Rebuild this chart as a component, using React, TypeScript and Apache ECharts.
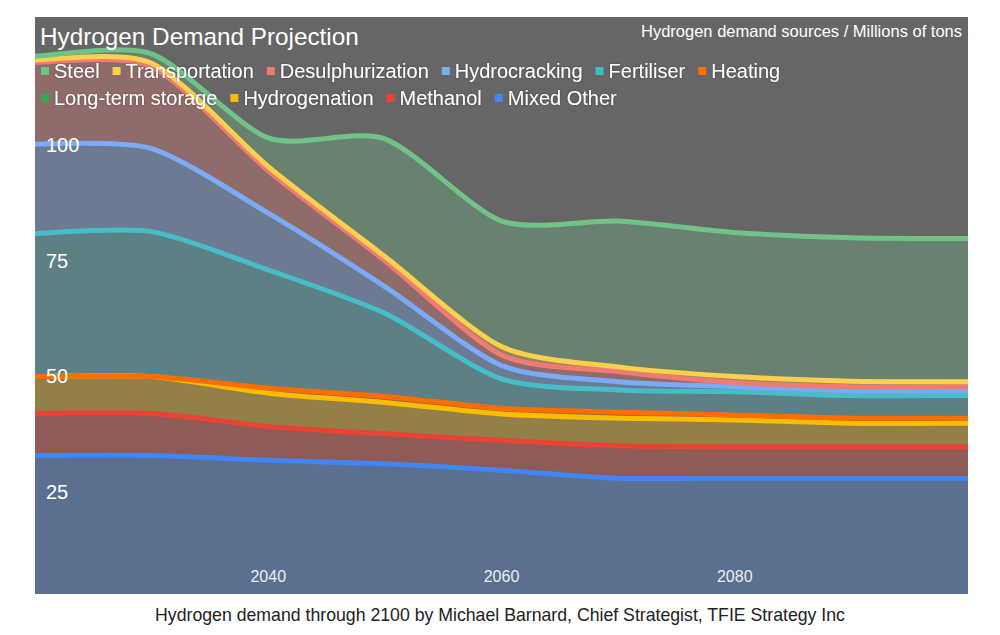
import React, { useEffect, useRef } from "react";
import * as echarts from "echarts";

// Years on the x axis
const years = ["2020", "2030", "2040", "2050", "2060", "2070", "2080", "2090", "2100"];
const labelledYears = ["2040", "2060", "2080"];

// Series values (millions of tons), bottom of the stack first
const mixedOther = [30.0, 30.0, 29.0, 28.2, 26.8, 25.1, 25.1, 25.1, 25.1];
const methanol = [9.1, 9.1, 7.3, 6.5, 6.5, 7.0, 6.8, 6.8, 6.8];
const hydrogenation = [8.0, 8.0, 7.2, 6.8, 5.7, 6.0, 5.8, 5.1, 5.1];
const longTermStorage = [null, null, null, null, null, null, null, null, null];
const heating = [0.0, 0.0, 1.1, 1.3, 1.2, 1.3, 1.1, 1.1, 1.1];
const fertiliser = [31.0, 31.4, 25.6, 18.0, 6.4, 4.8, 5.0, 4.9, 4.9];
const hydrocracking = [19.4, 18.0, 12.3, 5.8, 2.9, 1.8, 1.1, 1.0, 1.0];
const desulphurization = [17.7, 17.7, 9.2, 5.6, 2.3, 2.2, 0.9, 0.9, 0.9];
const transportation = [0.5, 0.8, 0.9, 0.9, 1.8, 1.0, 1.3, 1.2, 1.1];
const steel = [0.8, 2.0, 6.2, 25.5, 27.2, 31.6, 31.2, 31.1, 31.0];

const seriesNames = [
  "Mixed Other",
  "Methanol",
  "Hydrogenation",
  "Long-term storage",
  "Heating",
  "Fertiliser",
  "Hydrocracking",
  "Desulphurization",
  "Transportation",
  "Steel",
];
const seriesValues: (number | null)[][] = [
  mixedOther,
  methanol,
  hydrogenation,
  longTermStorage,
  heating,
  fertiliser,
  hydrocracking,
  desulphurization,
  transportation,
  steel,
];
const seriesColors = [
  "#4285F4",
  "#EA4335",
  "#FBBC04",
  "#34A853",
  "#FF6D01",
  "#46BDC6",
  "#7BAAF7",
  "#F07B72",
  "#FCD04F",
  "#71C287",
];

// legend rows, as in the reference
const legendRow1 = ["Steel", "Transportation", "Desulphurization", "Hydrocracking", "Fertiliser", "Heating"];
const legendRow2 = ["Long-term storage", "Hydrogenation", "Methanol", "Mixed Other"];

const yTicks = [0, 25, 50, 75, 100, 125];

const titleText = "Hydrogen Demand Projection";
const subtitleText = "Hydrogen demand sources / Millions of tons";
const captionText =
  "Hydrogen demand through 2100 by Michael Barnard, Chief Strategist, TFIE Strategy Inc";

const FONT = "'Liberation Sans', Arial, Helvetica, sans-serif";
const TENSION = 0.75;
const AREA_OPACITY = 0.3;

function rgba(hex: string, a: number): string {
  const r = parseInt(hex.slice(1, 3), 16);
  const g = parseInt(hex.slice(3, 5), 16);
  const b = parseInt(hex.slice(5, 7), 16);
  return `rgba(${r},${g},${b},${a})`;
}

// Cardinal (Catmull-Rom style) spline segments through pixel points
function splineSegments(pts: number[][]): string {
  const n = pts.length;
  const tan = pts.map((_, i) => {
    const a = pts[Math.max(0, i - 1)];
    const b = pts[Math.min(n - 1, i + 1)];
    return [((b[0] - a[0]) * TENSION) / 2, ((b[1] - a[1]) * TENSION) / 2];
  });
  let s = "";
  for (let i = 0; i < n - 1; i++) {
    const p = pts[i];
    const q = pts[i + 1];
    s +=
      ` C ${p[0] + tan[i][0] / 3} ${p[1] + tan[i][1] / 3}` +
      ` ${q[0] - tan[i + 1][0] / 3} ${q[1] - tan[i + 1][1] / 3}` +
      ` ${q[0]} ${q[1]}`;
  }
  return s;
}

export default function App() {
  const ref = useRef<HTMLDivElement>(null);

  useEffect(() => {
    if (!ref.current) return;
    const chart = echarts.init(ref.current, undefined, { renderer: "svg" });

    // stacked bases / tops built from the data arrays
    const bases: Record<number, number[]> = {};
    const tops: Record<number, number[]> = {};
    let running = years.map(() => 0);
    seriesValues.forEach((vals, i) => {
      if (!vals.some((v) => v !== null)) return;
      bases[i] = running;
      tops[i] = running.map((b, k) => b + (vals[k] as number));
      running = tops[i];
    });

    const series = seriesNames.map((name, i) => {
      const color = seriesColors[i];
      const vals = seriesValues[i];
      if (!tops[i]) {
        return {
          name,
          type: "line",
          showSymbol: false,
          symbol: "none",
          itemStyle: { color },
          lineStyle: { width: 5, color },
          data: vals.map((v) => (v === null ? "-" : v)),
        };
      }
      return {
        name,
        type: "custom",
        clip: true,
        itemStyle: { color },
        encode: { x: 0, y: 1 },
        data: vals.map((v, k) => [k, tops[i][k]]),
        renderItem: (params: any, api: any) => {
          if (params.dataIndex !== 0) return null;
          const topPts = tops[i].map((v, k) => api.coord([k, v]));
          const botPts = bases[i].map((v, k) => api.coord([k, v])).reverse();
          const topPath = `M ${topPts[0][0]} ${topPts[0][1]}` + splineSegments(topPts);
          const areaPath =
            topPath + ` L ${botPts[0][0]} ${botPts[0][1]}` + splineSegments(botPts) + " Z";
          return {
            type: "group",
            children: [
              {
                type: "path",
                z2: 1,
                shape: { pathData: areaPath },
                style: { fill: rgba(color, AREA_OPACITY), stroke: "none" },
              },
              {
                type: "path",
                z2: 50,
                shape: { pathData: topPath },
                style: {
                  fill: "none",
                  stroke: color,
                  lineWidth: 5,
                  lineJoin: "round",
                },
              },
            ],
          };
        },
      };
    });

    const legendBase = {
      padding: 0,
      icon: "rect",
      itemWidth: 8,
      itemHeight: 8,
      itemGap: 13,
      selectedMode: false,
      textStyle: {
        color: "#ffffff",
        fontSize: 20,
        fontFamily: FONT,
        textShadowColor: "rgba(0,0,0,0.35)",
        textShadowBlur: 2,
      },
    };

    chart.setOption({
      animation: false,
      backgroundColor: "#ffffff",
      textStyle: { fontFamily: FONT },
      title: [
        {
          text: titleText,
          left: 40,
          top: 24,
          padding: 0,
          textStyle: {
            color: "#ffffff",
            fontSize: 24.3,
            lineHeight: 24,
            fontWeight: "normal",
            fontFamily: FONT,
          },
        },
        {
          text: subtitleText,
          right: 38,
          top: 23,
          padding: 0,
          textStyle: {
            color: "#ffffff",
            fontSize: 16.5,
            lineHeight: 16,
            fontWeight: "normal",
            fontFamily: FONT,
          },
        },
        {
          text: captionText,
          left: "center",
          top: 606,
          padding: 0,
          textStyle: {
            color: "#222222",
            fontSize: 17.7,
            lineHeight: 17.5,
            fontWeight: "normal",
            fontFamily: FONT,
          },
        },
      ],
      legend: [
        { ...legendBase, data: legendRow1, left: 41, top: 61 },
        { ...legendBase, data: legendRow2, left: 41, top: 88 },
      ],
      grid: {
        left: 35,
        top: 17,
        width: 933,
        height: 577,
        show: true,
        backgroundColor: "#666666",
        borderWidth: 0,
      },
      xAxis: {
        type: "category",
        data: years,
        boundaryGap: false,
        z: 10,
        axisLine: { show: false },
        axisTick: { show: false },
        splitLine: { show: false },
        axisLabel: {
          inside: true,
          interval: (_idx: number, value: string) => labelledYears.includes(value),
          color: "#eeeeee",
          fontSize: 16,
          margin: 10,
          fontFamily: FONT,
        },
      },
      yAxis: {
        type: "value",
        min: yTicks[0],
        max: yTicks[yTicks.length - 1],
        interval: 25,
        z: 10,
        axisLine: { show: false },
        axisTick: { show: false },
        splitLine: { show: false },
        axisLabel: {
          inside: true,
          showMinLabel: false,
          showMaxLabel: false,
          color: "#ffffff",
          fontSize: 20,
          margin: 11,
          verticalAlign: "top",
          padding: [3, 0, 0, 0],
          fontFamily: FONT,
        },
      },
      series,
    });

    return () => chart.dispose();
  }, []);

  return (
    <div
      ref={ref}
      style={{ position: "absolute", left: 0, top: 0, width: 1000, height: 635 }}
    />
  );
}
